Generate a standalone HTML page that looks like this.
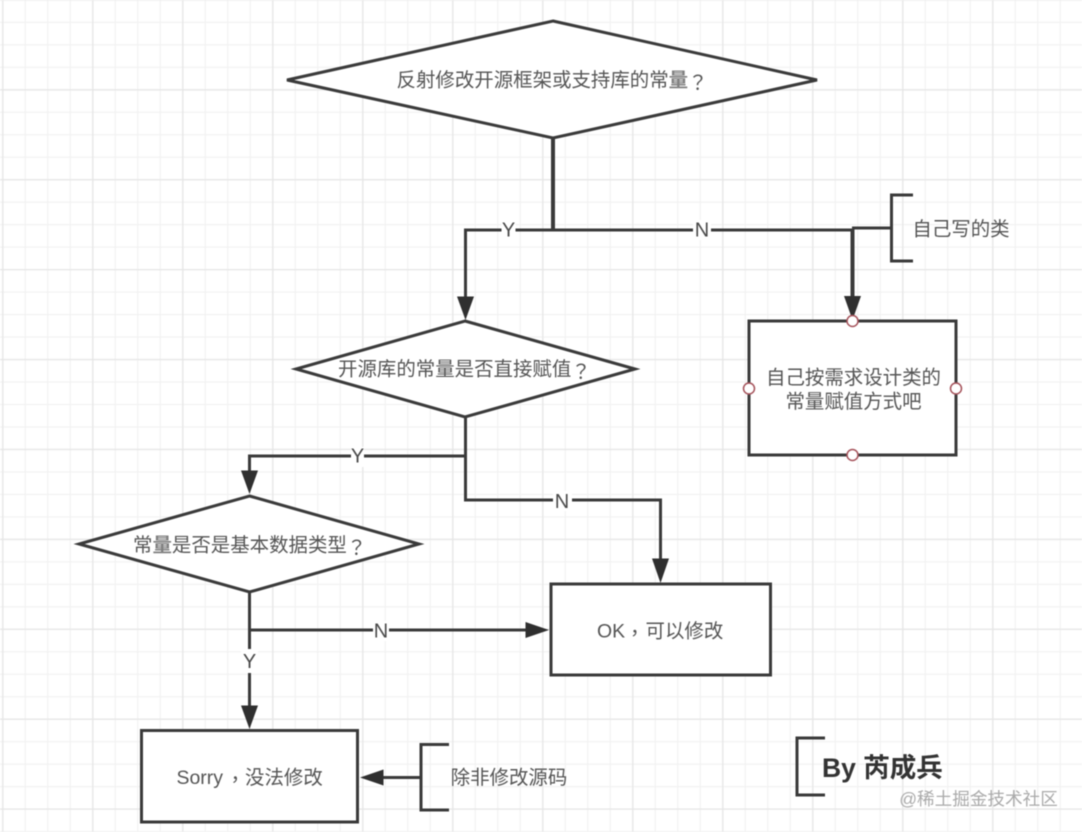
<!DOCTYPE html>
<html><head><meta charset="utf-8"><style>
html,body{margin:0;padding:0;background:#fff}
svg{display:block;filter:blur(0.5px)}
text{font-family:"Liberation Sans","Noto Sans CJK SC",sans-serif;fill:#555;font-size:19.45px;dominant-baseline:central}
.c{text-anchor:middle}
.l{font-size:20px;text-anchor:middle;fill:#4a4a4a}
.p{font-family:"Noto Sans CJK TC",sans-serif}
.d{font-weight:bold;fill:#808080}
</style></head><body>
<svg width="1082" height="832" viewBox="0 0 1082 832" xmlns="http://www.w3.org/2000/svg">
<defs>
<pattern id="g1" width="22.5" height="22.48" patternUnits="userSpaceOnUse" x="2.200" y="-0.700"><path d="M0.5 0V22.48M0 0.5H22.5" stroke="#f1f1f1" stroke-width="1.200" fill="none"/></pattern>
<pattern id="g2" width="90" height="89.9" patternUnits="userSpaceOnUse" x="2.200" y="-0.700"><path d="M0.5 0V89.9M0 0.5H90" stroke="#e6e6e6" stroke-width="1.400" fill="none"/></pattern>
</defs>
<rect width="1082" height="832" fill="#fff"/>
<rect width="1082" height="832" fill="url(#g1)"/>
<rect width="1082" height="832" fill="url(#g2)"/>
<g fill="#fff" stroke="#3a3a3a" stroke-width="3">
<polygon points="553,21 817,80 553,138 287,80"/>
<polygon points="465,321 635,369 465,417 296,369"/>
<polygon points="249.500,496 419,544 249.500,592 79,544"/>
<rect x="749" y="321" width="207" height="134"/>
<rect x="551" y="584" width="219.500" height="91"/>
<rect x="141.500" y="730.500" width="216" height="91.500"/>
</g>
<g fill="none" stroke="#3a3a3a" stroke-width="3">
<path d="M553 138V230" stroke-width="4"/>
<path d="M465.500 298V230H852"/>
<path d="M852.500 229V298" stroke-width="4"/>
<path d="M852 228H891"/>
<path d="M913 195H891.500V261H913"/>
<path d="M465.500 417V500H660.500V560"/>
<path d="M465 456H249.500V472"/>
<path d="M249.500 592V707"/>
<path d="M249 630H527"/>
<path d="M382 777.500H421"/>
<path d="M449 744.500H421V810H449"/>
<path d="M825 738H797V795H825"/>
</g>
<g fill="#2f2f2f">
<polygon points="465.500,320 457,296.500 474,296.500"/>
<polygon points="852.500,320 844,296 861,296"/>
<polygon points="660.500,583 652,558.500 669,558.500"/>
<polygon points="249.500,494 241,470.500 258,470.500"/>
<polygon points="249.500,729 241,705.500 258,705.500"/>
<polygon points="549,630 525.500,622 525.500,638"/>
<polygon points="360,777.500 383.500,769.500 383.500,785.500"/>
</g>
<g fill="#fff" stroke="#a5525a" stroke-width="1.500">
<circle cx="852.500" cy="321" r="5.500"/>
<circle cx="852.500" cy="455" r="5.500"/>
<circle cx="749" cy="388.500" r="5.500"/>
<circle cx="956" cy="388.500" r="5.500"/>
</g>
<g fill="#fff">
<rect x="501.500" y="220" width="14" height="20"/>
<rect x="693" y="220" width="18" height="20"/>
<rect x="351" y="447" width="13" height="20"/>
<rect x="553" y="491" width="19" height="20"/>
<rect x="373" y="621" width="16" height="20"/>
<rect x="241" y="649" width="17" height="24"/>
</g>
<text x="396.500" y="80.500">反射修改开源框架或支持库的常<tspan class="d">量</tspan><tspan class="p">？</tspan></text>
<text x="338" y="369.500">开源库的常量是否直接赋值<tspan class="p">？</tspan></text>
<text x="133" y="545.500">常<tspan class="d">量</tspan>是否是基本数据类型<tspan class="p">？</tspan></text>
<text class="c" x="853.500" y="378">自己按需求设计类的</text>
<text class="c" x="853.500" y="402">常量赋值方式吧</text>
<text x="597" y="631.500">OK</text><text class="p" x="625" y="631.500">，</text><text x="645.500" y="631.500">可以修改</text>
<text x="176.500" y="778">Sorry</text><text class="p" x="225.500" y="778">，</text><text x="245" y="778">没法修改</text>
<text class="c" x="961" y="229.500">自己写的类</text>
<text class="l" x="508.500" y="230.500">Y</text>
<text class="l" x="702" y="230.500">N</text>
<text class="l" x="357.500" y="456.500">Y</text>
<text class="l" x="562" y="502">N</text>
<text class="l" x="381" y="631.500">N</text>
<text class="l" x="249.500" y="662">Y</text>
<text class="c" x="509" y="778">除非修改源码</text>
<text x="822" y="768" style="font-size:26.500px;font-weight:bold;fill:#333">By 芮成兵</text>
<text class="c" x="978.500" y="799" style="font-size:17.600px;fill:#aaa">@稀土掘金技术社区</text>
</svg>
</body></html>
